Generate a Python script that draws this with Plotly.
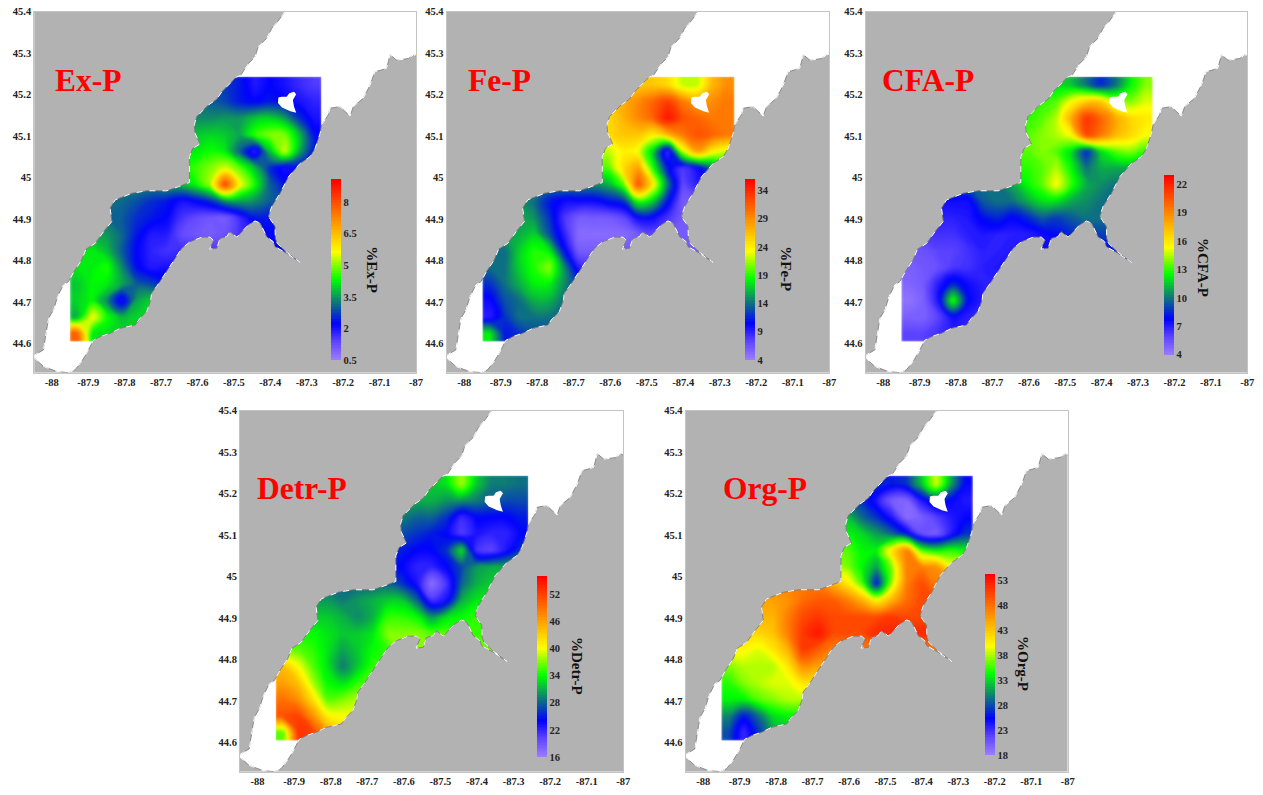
import plotly.graph_objects as go

W, H = 1263, 795
LON = [-87.93,-87.889,-87.849,-87.808,-87.767,-87.727,-87.686,-87.645,-87.605,-87.564,-87.524,-87.483,-87.442,-87.402,-87.361,-87.320,-87.280]
LAT = [45.223,45.183,45.143,45.103,45.063,45.023,44.983,44.943,44.903,44.863,44.823,44.783,44.743,44.703,44.663,44.624]
LON_EDGES = [-87.95,-87.26]
LAT_EDGES = [45.243,44.604]

EX_P = [
[3.4,3.4,3.4,3.3,3.3,3.2,3.2,3.1,3.0,2.9,2.7,2.4,1.9,2.2,2.0,1.7,1.5],
[3.6,3.6,3.6,3.5,3.5,3.4,3.4,3.3,3.2,3.0,2.8,2.4,2.2,2.4,2.2,2.0,1.8],
[3.8,3.8,3.8,3.7,3.7,3.6,3.6,3.5,3.4,3.4,3.5,3.5,3.9,4.0,3.6,2.6,2.0],
[4.0,4.0,4.0,4.0,4.0,3.9,3.9,3.9,3.9,4.0,3.9,3.6,4.6,5.0,5.0,3.8,2.3],
[4.2,4.2,4.2,4.2,4.2,4.2,4.2,4.2,4.2,4.4,4.2,3.0,1.7,3.8,5.4,3.6,2.3],
[4.0,4.0,4.0,4.0,4.0,4.0,4.2,4.4,4.6,5.0,5.4,4.8,3.8,2.6,2.0,2.2,2.3],
[3.4,3.4,3.4,3.4,3.4,3.4,3.6,3.8,4.3,5.2,8.2,5.6,4.4,3.0,2.4,2.4,2.4],
[3.2,3.2,3.2,3.1,2.9,2.6,2.4,2.0,2.2,2.6,3.4,3.6,3.4,3.0,2.8,2.8,2.8],
[3.2,3.2,3.1,3.0,2.6,2.4,2.2,1.6,1.3,1.1,1.0,1.7,2.4,2.4,2.4,2.4,2.4],
[3.6,3.6,3.5,3.1,2.4,1.9,1.9,1.3,1.1,1.0,1.2,1.6,2.0,2.2,2.2,2.2,2.2],
[4.2,4.2,3.8,3.0,2.2,1.8,1.6,1.7,1.7,1.6,1.5,1.6,2.0,2.2,2.2,2.2,2.2],
[4.2,4.2,4.5,3.4,2.3,1.9,2.0,2.0,2.0,2.0,2.0,2.0,2.0,2.0,2.0,2.0,2.0],
[3.9,4.3,4.2,3.6,3.0,2.8,2.4,2.2,2.2,2.2,2.2,2.2,2.2,2.2,2.2,2.2,2.2],
[4.0,4.3,3.4,1.9,3.6,4.0,3.4,3.0,3.0,3.0,3.0,3.0,3.0,3.0,3.0,3.0,3.0],
[3.7,5.7,4.4,3.8,4.0,4.0,3.8,3.6,3.6,3.6,3.6,3.6,3.6,3.6,3.6,3.6,3.6],
[7.8,4.2,4.1,4.0,4.0,4.0,4.0,4.0,4.0,4.0,4.0,4.0,4.0,4.0,4.0,4.0,4.0],
]
FE_P = [
[26,26,26,26,26,26,26,26,26,26,26,26,25,22,22,27,29],
[26,26,26,26,26,26,26,26,26,27,29,31,33,30,28,29,30],
[25,25,25,25,25,25,25,25,25,27,29,31,35,32,31,30,30],
[25,25,25,25,25,25,25,25,25,26,26,24,27,30,32,31,30],
[22,22,22,22,22,22,22,22,22,24,23,17,8,22,28,24,22],
[20,20,20,20,20,20,20,20,20,25,28,19,11,7.5,10,14,18],
[15,15,15,15,15,15,15,15,16,20,32,24,14,7,9,10,10],
[15,15,15,14,11,10,10,10,11,12,19,17,11,6,6,6,6],
[16,16,16,15,12,8,6,6,6,7,10,10,8,6,6,6,6],
[16,16,16,17,13,9,5,5,5,5,6,7,6,6,6,6,6],
[14,14,17,19,18,11,6,6,6,6,6,6,6,6,6,6,6],
[14,14,17,19,21,15,9,8,8,8,8,8,8,8,8,8,8],
[12,14,16,18,18,15,12,12,12,12,12,12,12,12,12,12,12],
[10,13,14,16,16,14,13,13,13,13,13,13,13,13,13,13,13],
[9,12,14,14,14,14,14,14,14,14,14,14,14,14,14,14,14],
[18,11,12,13,13,13,13,13,13,13,13,13,13,13,13,13,13],
]
CFA_P = [
[12,12,12,12,12,12,12,12,12,12,12,11.5,10,8.5,10,12.5,14],
[13,13,13,13,13,13,13,13,13,13,13.5,15.5,17,17,14.5,14,15],
[13,13,13,13,13,13,13,13,13,13.5,14.5,18,21.5,20,18,16.5,16],
[13.5,13.5,13.5,13.5,13.5,13.5,13.5,13.5,13.5,14,14.5,15.5,21,19.5,17.5,16.5,15.5],
[13.5,13.5,13.5,13.5,13.5,13.5,13.5,13.5,13.5,14,13.5,12,8.5,12,13.5,14,13],
[13,13,13,13,13,13,13,13,13,13.5,14.5,12.5,10,11,11,11,11],
[10,10,10,10,10,10,10,11,12.5,13.5,15.5,13,11,10.5,10,10,10],
[7.5,7.5,7.5,7.5,7.5,9.5,10,10,11,12,12,11,10.5,10,10,10,10],
[7,7,7,7,7.2,8,8.5,7.8,8.5,9.5,9,9.5,10,10,10,10,10],
[6.5,6.5,6.5,6.5,7,7.2,7,7,7,7.5,8,8.5,9,9,9,9,9],
[5.5,5.5,6,6,6.5,7,7,7.2,7.5,7.5,7.5,8,8,8,8,8,8],
[5,5.3,5.6,6.3,6.5,7,7.2,7.5,7.5,7.5,7.5,7.5,7.5,7.5,7.5,7.5,7.5],
[4.8,5.2,7,8.5,7.5,7,7,7,7,7,7,7,7,7,7,7,7],
[4.4,5,7.2,13,7.8,7,7,7,7,7,7,7,7,7,7,7,7],
[5,5,6,7.5,7,7,7,7,7,7,7,7,7,7,7,7,7],
[6,6,6.5,7,7,7,7,7,7,7,7,7,7,7,7,7,7],
]
DETR_P = [
[32,32,32,32,32,32,32,32,32,32,32,33,38,32,29,29,28.5],
[31,31,31,31,31,31,31,31,31,31,31,30,30,29,28,27,27],
[29,29,29,29,29,29,29,29,29,28,28,26,21.5,24,24,24,25],
[27,27,27,27,27,27,27,27,27,26,25,24,20.5,23,22,22,24],
[25,25,25,25,25,25,25,25,25,24,24,26,33,21,20,23,26],
[25,25,25,25,25,25,25,25,24,22,22,24,27,30,31,31,31],
[28,28,28,28,28,28,28,28,26,23,17,21,28,31,32,32,32],
[30,30,30,30,29,30,31,32,32,28,21,23,31,33,33,33,33],
[32,32,32,32,31,29.5,31,35,35,34,30,33,34,35,35,35,35],
[34,34,34,33,32,32,33,37,37,37,36,36,35,35,35,35,35],
[36,36,35,33,30.5,32,34,35,37,37,37,37,37,37,37,37,37],
[44,40,36,33,29,32,35,36,36,36,36,36,36,36,36,36,36],
[46,44,38,34,33,35,36,36,36,36,36,36,36,36,36,36,36],
[49,47,42,36,37,38,38,38,38,38,38,38,38,38,38,38,38],
[51,52,47,41,40,40,40,40,40,40,40,40,40,40,40,40,40],
[36,53,52,46,43,42,42,42,42,42,42,42,42,42,42,42,42],
]
ORG_P = [
[28,28,28,28,28,28,28,28,28,28,27,26,27,32,39,31,25],
[29,29,29,29,29,29,29,29,29,27,24,20,19.5,24,27,25,24],
[32,32,32,32,32,32,32,32,32,29,27,24,19,20,22,24,25],
[34,34,34,34,34,34,34,34,34,33,31,29,26,21,20,24,27],
[36,36,36,36,36,36,36,36,36,34,34,41,47,36,34,35,34],
[37,37,37,37,37,37,37,37,37,34,31,37,47,47,46,40,40],
[47,47,47,47,47,47,47,44,41,36,26,38,47,50,47,47,47],
[45,45,45,45,46,48,49,49,47,44,40,44,48,50,50,50,50],
[44,44,44,44,47,50,51,50,50,50,50,51,50,50,50,50,50],
[42,42,42,43,47,51,53,50,50,50,52,52,52,52,52,52,52],
[40,40,39,41,44,51,49,47,47,47,47,47,47,47,47,47,47],
[37,38,38,38,41,46,45,45,45,45,45,45,45,45,45,45,45],
[35,37,38,39,39,41,41,41,41,41,41,41,41,41,41,41,41],
[34,34,36,37,38,38,38,38,38,38,38,38,38,38,38,38,38],
[30,26,29,33,34,34,34,34,34,34,34,34,34,34,34,34,34],
[28,23,27,31,32,32,32,32,32,32,32,32,32,32,32,32,32],
]

NW_LON = [-87.360,-87.378,-87.396,-87.410,-87.433,-87.442,-87.460,-87.481,-87.494,-87.511,-87.533,-87.547,-87.570,-87.593,-87.602,-87.609,-87.607,-87.593,-87.613,-87.622,-87.622,-87.652,-87.684,-87.739,-87.780,-87.826,-87.840,-87.835,-87.858,-87.881,-87.906,-87.918,-87.939,-87.954,-87.968,-87.984,-87.995,-88.009,-88.016,-88.023,-88.05]
NW_LAT = [45.4,45.378,45.360,45.336,45.316,45.291,45.275,45.247,45.242,45.227,45.207,45.189,45.175,45.155,45.147,45.127,45.107,45.081,45.070,45.050,44.988,44.978,44.968,44.968,44.962,44.946,44.926,44.894,44.869,44.841,44.827,44.801,44.773,44.749,44.741,44.713,44.681,44.660,44.624,44.584,44.570]
SE_LON = [-88.05,-88.023,-87.986,-87.954,-87.936,-87.918,-87.904,-87.886,-87.867,-87.840,-87.812,-87.790,-87.771,-87.758,-87.739,-87.728,-87.726,-87.712,-87.694,-87.666,-87.643,-87.620,-87.588,-87.565,-87.556,-87.567,-87.547,-87.538,-87.520,-87.511,-87.492,-87.478,-87.460,-87.442,-87.428,-87.410,-87.392,-87.387,-87.355,-87.318,-87.357,-87.381,-87.386,-87.387,-87.405,-87.396,-87.373,-87.350,-87.318,-87.291,-87.277,-87.263,-87.259,-87.241,-87.236,-87.209,-87.181,-87.172,-87.145,-87.126,-87.113,-87.081,-87.071,-87.053,-87.021,-87.007,-87.000]
SE_LAT = [44.566,44.544,44.532,44.529,44.536,44.556,44.576,44.607,44.616,44.624,44.636,44.640,44.644,44.660,44.677,44.705,44.721,44.737,44.761,44.801,44.829,44.845,44.856,44.856,44.848,44.827,44.829,44.853,44.857,44.869,44.856,44.869,44.886,44.895,44.890,44.857,44.845,44.833,44.817,44.795,44.821,44.841,44.853,44.882,44.906,44.930,44.962,45.002,45.034,45.050,45.070,45.107,45.127,45.151,45.167,45.171,45.148,45.171,45.191,45.223,45.255,45.263,45.296,45.283,45.287,45.296,45.293]
ISLAND_LON = [-87.378,-87.369,-87.355,-87.348,-87.335,-87.329,-87.338,-87.335,-87.329,-87.345,-87.368,-87.379,-87.378]
ISLAND_LAT = [45.193,45.195,45.195,45.203,45.207,45.201,45.187,45.171,45.156,45.160,45.169,45.180,45.193]

XTICKS = [-88,-87.9,-87.8,-87.7,-87.6,-87.5,-87.4,-87.3,-87.2,-87.1,-87]
YTICKS = [44.6,44.7,44.8,44.9,45,45.1,45.2,45.3,45.4]
XRANGE = [-88.048,-87.0]
YRANGE = [44.529,45.4]

NAMES = ["Ex-P","Fe-P","CFA-P","Detr-P","Org-P"]
GRIDS = [EX_P,FE_P,CFA_P,DETR_P,ORG_P]
ZMIN = [0.5,4,4,16,18]
ZMAX = [9.1,36,23,56,54.1]
CB_TICKS = [[0.5,2,3.5,5,6.5,8],[4,9,14,19,24,29,34],[4,7,10,13,16,19,22],[16,22,28,34,40,46,52],[18,23,28,33,38,43,48,53]]

# layout, in page pixels: left,right,top,bottom
BOXES = [(34.3,416,11.7,372.7),(446.7,829.3,11.7,372.7),(865.7,1247.3,11.7,372.7),(240,623.3,410.7,771.7),(685.7,1067.7,410.7,771.7)]
CB = [(331,179,360),(745,179,360),(1164,174.7,355),(536.7,576,756.7),(985.3,574.3,755.3)]
CBT = [(371.7,270),(785.7,269),(1203,267),(577.7,665.7),(1023,663)]
LABEL = [(55,80),(468,80),(882,80),(257,487),(723,487)]

COLORS = [[0,"#9a7dff"],[0.1,"#5f45ff"],[0.2,"#0000ff"],[0.33,"#0f8070"],[0.45,"#00ff00"],[0.6,"#ffff00"],[0.8,"#ff8000"],[0.9,"#ff4000"],[1,"#ff0000"]]
SERIF = "Liberation Serif"
LAND = "#b2b2b2"

# the outer cells are carried out to the edge of the mapped rectangle
X_FULL = [LON_EDGES[0]] + LON + [LON_EDGES[1]]
Y_FULL = [LAT_EDGES[0]] + LAT + [LAT_EDGES[1]]
def padded(g):
    rows = [[r[0]] + r + [r[-1]] for r in g]
    return [rows[0]] + rows + [rows[-1]]

fig = go.Figure()
anns = []
for i,name in enumerate(NAMES):
    l,r,t,b = BOXES[i]
    s = "" if i==0 else str(i+1)
    ax = dict(range=XRANGE,domain=[l/W,r/W],tickvals=XTICKS,ticktext=[str(v) for v in XTICKS],
              tickfont=dict(family=SERIF,size=10.5,color="#222",weight="bold"),ticks="",showgrid=False,zeroline=False,
              showline=True,linecolor="#c4c4c4",linewidth=1,mirror=True,anchor="y"+s,tickangle=0,layer="above traces")
    ay = dict(range=YRANGE,domain=[1-b/H,1-t/H],tickvals=YTICKS,ticktext=[str(v) for v in YTICKS],
              tickfont=dict(family=SERIF,size=10.5,color="#222",weight="bold"),ticks="",showgrid=False,zeroline=False,
              showline=True,linecolor="#c4c4c4",linewidth=1,mirror=True,anchor="x"+s,layer="above traces")
    fig.update_layout({"xaxis"+s:ax,"yaxis"+s:ay})
    cx,ct,cb = CB[i]
    fig.add_trace(go.Contour(x=X_FULL,y=Y_FULL,z=padded(GRIDS[i]),zmin=ZMIN[i],zmax=ZMAX[i],colorscale=COLORS,
        contours=dict(coloring="fill",start=ZMIN[i],end=ZMAX[i],size=(ZMAX[i]-ZMIN[i])/120,showlines=False),
        line=dict(width=0,smoothing=1.3),
        xaxis="x"+s,yaxis="y"+s,hoverinfo="skip",
        colorbar=dict(x=cx/W,xanchor="left",y=1-ct/H,yanchor="top",lenmode="pixels",len=cb-ct,thicknessmode="pixels",thickness=9.7,
                      xpad=0,ypad=0,outlinewidth=0,borderwidth=0,ticks="",tickvals=CB_TICKS[i],ticktext=[str(v) for v in CB_TICKS[i]],
                      tickfont=dict(family=SERIF,size=10.5,color="#222",weight="bold"),bgcolor="rgba(0,0,0,0)")))
    common = dict(xaxis="x"+s,yaxis="y"+s,hoverinfo="skip",showlegend=False)
    fig.add_trace(go.Scatter(x=NW_LON+[XRANGE[0]-0.002,-87.36],y=NW_LAT+[YRANGE[1],YRANGE[1]],mode="lines",line=dict(width=0),fill="toself",fillcolor=LAND,**common))
    fig.add_trace(go.Scatter(x=SE_LON+[XRANGE[1],XRANGE[0]-0.002],y=SE_LAT+[YRANGE[0],YRANGE[0]],mode="lines",line=dict(width=0),fill="toself",fillcolor=LAND,**common))
    fig.add_trace(go.Scatter(x=ISLAND_LON,y=ISLAND_LAT,mode="lines",line=dict(width=0),fill="toself",fillcolor="white",**common))
    for lo,la in ((NW_LON,NW_LAT),(SE_LON,SE_LAT)):
        fig.add_trace(go.Scatter(x=lo,y=la,mode="lines",line=dict(width=0.8,color="#7a7a7a"),**common))
        fig.add_trace(go.Scatter(x=lo,y=la,mode="lines",line=dict(width=1,color="white",dash="6px,7px"),**common))
    tx,ty = CBT[i]
    anns.append(dict(xref="paper",yref="paper",x=tx/W,y=1-ty/H,text="%"+name,textangle=90,showarrow=False,
                     font=dict(family=SERIF,size=15,color="#111",weight="bold"),xanchor="center",yanchor="middle"))
    lx,ly = LABEL[i]
    anns.append(dict(xref="paper",yref="paper",x=lx/W,y=1-ly/H,text=name,showarrow=False,xshift=-2,yshift=-1,
                     font=dict(family=SERIF,size=31.5,color="#ff0000",weight="bold"),xanchor="left",yanchor="middle"))

fig.update_layout(width=W,height=H,margin=dict(l=0,r=0,t=0,b=0,autoexpand=False),paper_bgcolor="white",plot_bgcolor="white",annotations=anns,showlegend=False)
fig.write_html("out.html",config={"displayModeBar":False},
    post_script="document.body.style.margin='0';document.body.style.overflow='hidden';document.querySelectorAll('.contourlayer .contour').forEach(function(c){c.style.filter='blur(1.5px)';});")
